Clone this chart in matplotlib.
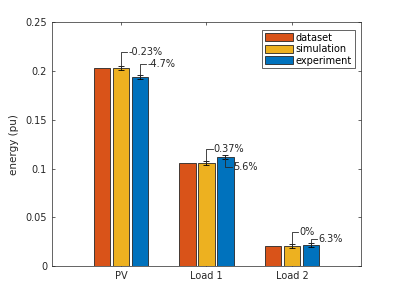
import matplotlib
matplotlib.use("Agg")
import matplotlib.pyplot as plt
import numpy as np

categories = ["PV", "Load 1", "Load 2"]
series_names = ["dataset", "simulation", "experiment"]
dataset = [0.2034, 0.1058, 0.0207]
simulation = [0.2029, 0.1062, 0.0207]
experiment = [0.1938, 0.1117, 0.0220]
sim_err = [0.0020, 0.0020, 0.0020]
exp_err = [0.0020, 0.0020, 0.0020]
sim_labels = ["-0.23%", "0.37%", "0%"]
exp_labels = ["-4.7%", "5.6%", "6.3%"]

colors = ["#D95319", "#EDB120", "#0072BD"]
axis_col = "#262626"

plt.rcParams["font.family"] = ["DejaVu Sans"]
plt.rcParams["font.size"] = 7

fig = plt.figure(figsize=(3.99, 2.99), dpi=100)
ax = fig.add_axes([0.13, 0.11, 0.775, 0.815])

x = np.arange(1, len(categories) + 1)
step = 0.222
width = 0.19
for i, (vals, name) in enumerate(zip([dataset, simulation, experiment], series_names)):
    ax.bar(x + (i - 1) * step, vals, width, color=colors[i], edgecolor=axis_col,
           linewidth=0.6, label=name, zorder=2)

ax.errorbar(x, simulation, yerr=sim_err, fmt="none", ecolor="black",
            elinewidth=0.6, capsize=2, capthick=0.6, zorder=3)
ax.errorbar(x + step, experiment, yerr=exp_err, fmt="none", ecolor="black",
            elinewidth=0.6, capsize=2, capthick=0.6, zorder=3)

# leader lines: up/down from bar top, then right to the label
sim_dy = [0.0165, 0.0142, 0.0140]
exp_dy = [0.0132, -0.0097, 0.0056]
dx = 0.075
for k in range(len(categories)):
    for xc, top, dy, lab in [(x[k], simulation[k], sim_dy[k], sim_labels[k]),
                             (x[k] + step, experiment[k], exp_dy[k], exp_labels[k])]:
        ly = top + dy
        ax.plot([xc, xc, xc + dx], [top, ly, ly], color=axis_col, lw=0.6, zorder=4)
        ax.text(xc + dx + 0.01, ly, lab, ha="left", va="center", fontsize=7,
                color=axis_col)

ax.set_xlim(0.193, 3.807)
ax.set_ylim(0, 0.25)
ax.set_xticks(x)
ax.set_xticklabels(categories)
ax.set_yticks([0, 0.05, 0.1, 0.15, 0.2, 0.25])
ax.set_yticklabels(["0", "0.05", "0.1", "0.15", "0.2", "0.25"])
ax.set_ylabel("energy (pu)", color=axis_col, fontsize=7.5)
ax.yaxis.set_label_coords(-0.105, 0.5)
ax.tick_params(direction="in", length=2.5, width=0.5, colors=axis_col,
               top=True, right=True, labelsize=7)
for s in ax.spines.values():
    s.set_color(axis_col)
    s.set_linewidth(0.5)

leg = ax.legend(loc="upper right", fontsize=7, handlelength=2.8, handleheight=0.9,
                handletextpad=0.3, borderpad=0.3, labelspacing=0.15,
                fancybox=False, framealpha=1, edgecolor=axis_col,
                bbox_to_anchor=(0.995, 0.99))
leg.get_frame().set_linewidth(0.5)

fig.savefig("out.png", dpi=100)
